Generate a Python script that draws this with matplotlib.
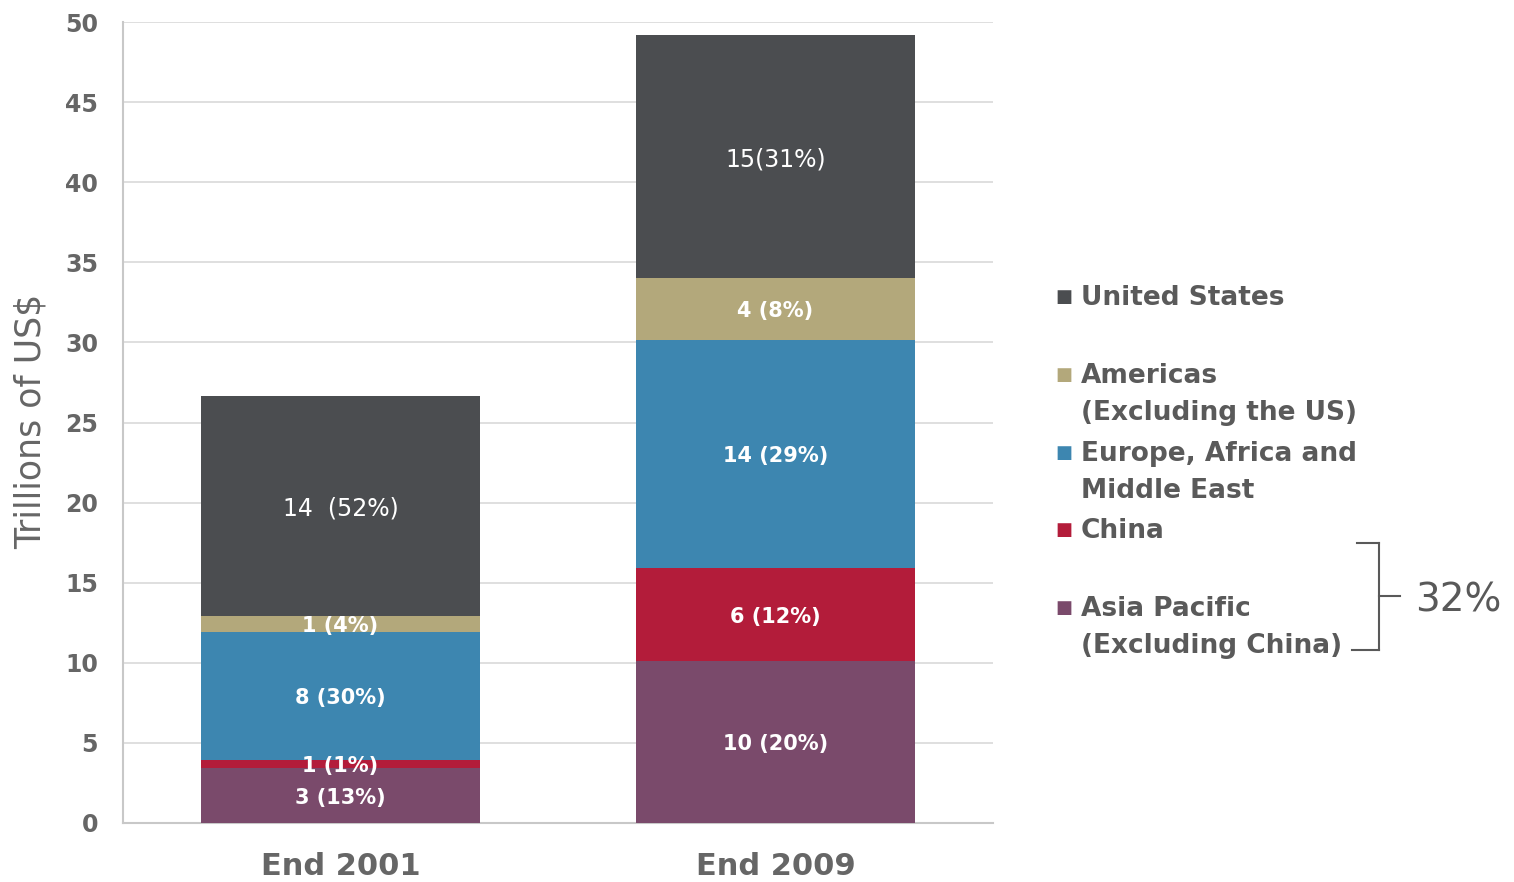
import numpy as np
import matplotlib.pyplot as plt
from matplotlib.lines import Line2D

# dados (trilhoes de US$)
anos = ['End 2001', 'End 2009']
regioes = ['Asia Pacific', 'China', 'Europe, Africa and Middle East', 'Americas', 'United States']
asia = [3.43, 10.11]
china = [0.5, 5.8]
europa = [8.0, 14.23]
americas = [1.0, 3.87]
eua = [13.73, 15.17]
rotulos_2001 = ['3 (13%)', '1 (1%)', '8 (30%)', '1 (4%)', '14  (52%)']
rotulos_2009 = ['10 (20%)', '6 (12%)', '14 (29%)', '4 (8%)', '15(31%)']
cores = ['#7a4a6b', '#b31c3a', '#3d86b0', '#b3a87b', '#4b4d50']

legenda = [['United States'], ['Americas', '(Excluding the US)'],
           ['Europe, Africa and', 'Middle East'], ['China'],
           ['Asia Pacific', '(Excluding China)']]
cores_legenda = ['#4b4d50', '#b3a87b', '#3d86b0', '#b31c3a', '#7a4a6b']
y_legenda = [295, 373, 451, 528, 606]

W, H = 1514, 882
fig = plt.figure(figsize=(W / 100, H / 100), dpi=100)
ax = fig.add_axes([123 / W, 1 - 823 / H, 870 / W, 801 / H])

x = np.arange(len(anos))
series = [asia, china, europa, americas, eua]
base = np.zeros(len(anos))
for i, s in enumerate(series):
    ax.bar(x, s, 0.641, bottom=base, color=cores[i], zorder=3)
    for j in range(len(anos)):
        txt = rotulos_2001[i] if j == 0 else rotulos_2009[i]
        peso = 'normal' if i == 4 else 'bold'
        tam = 17 if i == 4 else 15
        ax.text(x[j], base[j] + s[j] / 2, txt, ha='center', va='center_baseline',
                color='white', fontsize=tam, fontweight=peso, zorder=4)
    base = base + np.array(s)

ax.set_xlim(-0.5, 1.5)
ax.set_ylim(0, 50)
ax.set_yticks(np.arange(0, 51, 5))
ax.set_xticks(x)
ax.set_xticklabels(anos, fontsize=22, fontweight='bold', color='#666666')
ax.tick_params(axis='y', length=0, pad=18, labelsize=17, labelcolor='#666666')
ax.tick_params(axis='x', length=0, pad=21)
for t in ax.get_yticklabels():
    t.set_fontweight('bold')
ax.yaxis.grid(True, color='#dcdcdc', linewidth=1.3, zorder=0)
ax.spines['top'].set_visible(False)
ax.spines['right'].set_visible(False)
ax.spines['left'].set_color('#c8c8c8')
ax.spines['bottom'].set_color('#c8c8c8')
ax.spines['left'].set_linewidth(1.5)
ax.spines['bottom'].set_linewidth(1.5)

fig.text(31 / W, 1 - 421 / H, 'Trillions of US$', rotation=90, ha='center',
         va='center', fontsize=25, color='#666666')

# legenda manual
for k, linhas in enumerate(legenda):
    y0 = y_legenda[k]
    fig.text(1064 / W, 1 - y0 / H, '■', ha='center', va='center_baseline',
             fontsize=13, color=cores_legenda[k])
    for n, linha in enumerate(linhas):
        fig.text(1081 / W, 1 - (y0 + 37 * n) / H, linha, ha='left',
                 va='center_baseline', fontsize=19, fontweight='bold',
                 color='#5a5a5a')

# chave com 32%
segs = [((1357, 1379), (543, 543)), ((1379, 1379), (543, 650)),
        ((1352, 1379), (650, 650)), ((1379, 1400), (596, 596))]
for sx, sy in segs:
    fig.add_artist(Line2D([v / W for v in sx], [1 - v / H for v in sy],
                          color='#595959', linewidth=1.5))
fig.text(1458 / W, 1 - 596 / H, '32%', ha='center', va='center_baseline',
         fontsize=28, color='#595959')

fig.savefig('out.png', dpi=100)
